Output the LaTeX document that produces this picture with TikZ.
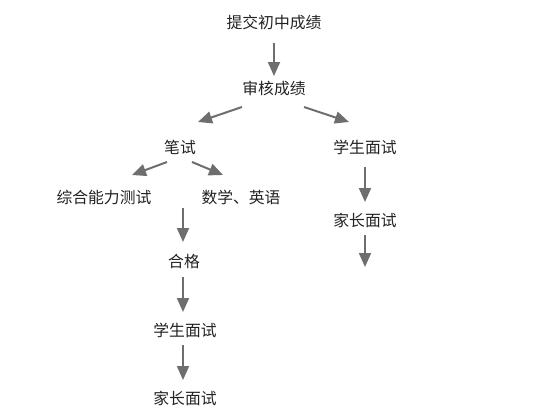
\documentclass[tikz,border=0pt]{standalone}
\usepackage{fontspec}
\setmainfont{Noto Sans CJK SC}
\usepackage{xcolor}
\usetikzlibrary{arrows.meta,
	positioning}
\definecolor{arrgray}{HTML}{6E6E6E}
\definecolor{txtgray}{HTML}{222222}
\tikzstyle{lbl}=[inner sep=0, text=txtgray, font=\fontsize{15.8pt}{18pt}\selectfont]
\tikzstyle{arr}=[draw=arrgray, line width=2pt,
		-{Triangle[length=14pt, width=12pt]}]
\begin{document}
\begin{tikzpicture}[x=1pt, y=-1pt]
            \useasboundingbox (0,0) rectangle (550,418);
            % top of the flow
            \node[lbl] (tijiao) at (274,22) {提交初中成绩};
            \node[lbl] (shenhe) at (274,88) {审核成绩};
            % written test branch
            \node[lbl] (bishi) at (180,147) {笔试};
            \node[lbl] (zonghe) at (104,197) {综合能力测试};
            \node[lbl] (shuxue) at (241,197) {数学、英语};
            \node[lbl] (hege) at (184,261) {合格};
            \node[lbl] (mianshiL) at (185,330) {学生面试};
            \node[lbl] (jiazhangL) at (185,398) {家长面试};
            % interview branch
            \node[lbl] (mianshiR) at (365,147) {学生面试};
            \node[lbl] (jiazhangR) at (365,220) {家长面试};
            \coordinate (endR) at (365,267);
            % arrows
            \draw[arr] ([yshift=-21pt]tijiao.center) -- ([yshift=12pt]shenhe.center);
            \draw[arr] ([shift={(-32pt,-19pt)}]shenhe.center) -- ([shift={(18pt,25pt)}]bishi.center);
            \draw[arr] ([shift={(30pt,-19pt)}]shenhe.center) -- ([shift={(-16pt,25pt)}]mianshiR.center);
            \draw[arr] ([shift={(-13pt,-15pt)}]bishi.center) -- ([shift={(28pt,22pt)}]zonghe.center);
            \draw[arr] ([shift={(12pt,-15pt)}]bishi.center) -- ([shift={(-18pt,22pt)}]shuxue.center);
            \draw[arr] ([shift={(-58pt,-11pt)}]shuxue.center) -- ([shift={(-1pt,19pt)}]hege.center);
            \draw[arr] ([shift={(-1pt,-16pt)}]hege.center) -- ([shift={(-2pt,18pt)}]mianshiL.center);
            \draw[arr] ([shift={(-2pt,-15pt)}]mianshiL.center) -- ([shift={(-2pt,18pt)}]jiazhangL.center);
            \draw[arr] ([yshift=-20pt]mianshiR.center) -- ([yshift=18pt]jiazhangR.center);
            \draw[arr] ([yshift=-15pt]jiazhangR.center) -- (endR);
\end{tikzpicture}
\end{document}
